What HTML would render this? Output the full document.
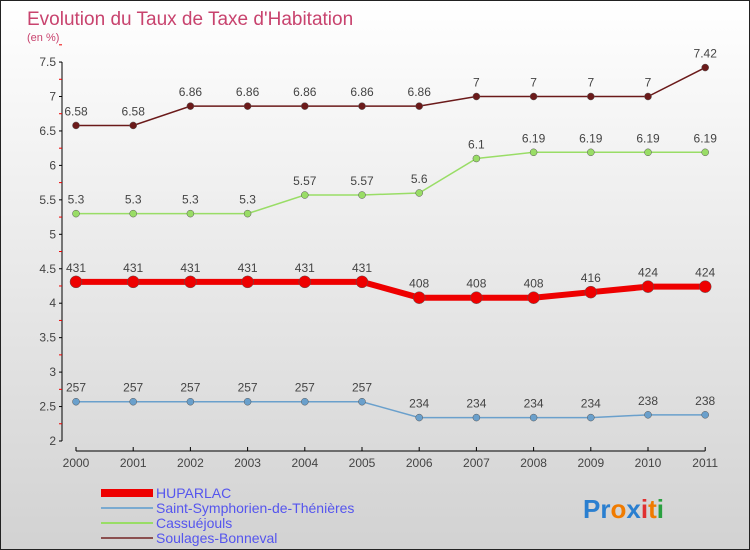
<!DOCTYPE html>
<html><head><meta charset="utf-8"><style>
body{margin:0}
#c{width:750px;height:550px;position:relative;overflow:hidden;box-sizing:border-box;border:1px solid #222;background:linear-gradient(#ffffff,#d2d2d2);font-family:"Liberation Sans",sans-serif}
svg text{font-family:"Liberation Sans",sans-serif}
</style></head><body>
<div id="c">
<svg id="s" width="750" height="550">
<text x="26" y="24" font-size="19" fill="#c8436e">Evolution du Taux de Taxe d'Habitation</text>
<text x="26" y="40" font-size="11" fill="#c8436e">(en %)</text>
<g id="axes"></g><g id="series"></g>
<g>
<rect x="100" y="488" width="52" height="8" fill="#e00"/>
<text x="155" y="497" font-size="14" fill="#5555ee">HUPARLAC</text>
<rect x="100" y="506" width="52" height="2" fill="#7aaad0"/>
<text x="155" y="512" font-size="14" fill="#5555ee">Saint-Symphorien-de-Thénières</text>
<rect x="100" y="521" width="52" height="2" fill="#99dd66"/>
<text x="155" y="527" font-size="14" fill="#5555ee">Cassuéjouls</text>
<rect x="100" y="536" width="52" height="2" fill="#8b5050"/>
<text x="155" y="542" font-size="14" fill="#5555ee">Soulages-Bonneval</text>
</g>
<text x="582" y="517" font-size="26" font-weight="bold"><tspan fill="#2a7fd0">Pr</tspan><tspan fill="#f07b00">o</tspan><tspan fill="#2a7fd0">x</tspan><tspan fill="#e03030">i</tspan><tspan fill="#f07b00">t</tspan><tspan fill="#2aa040">i</tspan></text>
</svg></div>
<script>
const years=["2000","2001","2002","2003","2004","2005","2006","2007","2008","2009","2010","2011"];
const yTicks=[2,2.5,3,3.5,4,4.5,5,5.5,6,6.5,7,7.5];
const huparlac=[4.31,4.31,4.31,4.31,4.31,4.31,4.08,4.08,4.08,4.16,4.24,4.24];
const saintSymphorien=[2.57,2.57,2.57,2.57,2.57,2.57,2.34,2.34,2.34,2.34,2.38,2.38];
const cassuejouls=[5.3,5.3,5.3,5.3,5.57,5.57,5.6,6.1,6.19,6.19,6.19,6.19];
const soulages=[6.58,6.58,6.86,6.86,6.86,6.86,6.86,7,7,7,7,7.42];
const NS="http://www.w3.org/2000/svg";
const X=i=>75+i*57.2;
const Y=v=>440-(v-2)*68.9;
function mk(t,a,p){const e=document.createElementNS(NS,t);for(const k in a)e.setAttribute(k,a[k]);p.appendChild(e);return e;}
const ax=document.getElementById('axes');
const ya=mk('line',{x1:61,y1:Y(7.5),x2:61,y2:Y(2),stroke:'#000','stroke-width':1},ax);


yTicks.forEach(v=>{
 mk('line',{x1:58,y1:Y(v),x2:61,y2:Y(v),stroke:'#000'},ax);
 mk('line',{x1:58,y1:Y(v+0.25),x2:61,y2:Y(v+0.25),stroke:'#e00'},ax);
 const t=mk('text',{x:55,y:Y(v)+4,'font-size':12,'text-anchor':'end',fill:'#444'},ax);
 t.textContent=String(v);
 
 
});
const xa=mk('line',{x1:X(0),y1:450,x2:X(11),y2:450,stroke:'#000'},ax);


years.forEach((y,i)=>{
 mk('line',{x1:X(i),y1:446,x2:X(i),y2:450,stroke:'#000'},ax);
 const t=mk('text',{x:X(i),y:466,'font-size':12,'text-anchor':'middle',fill:'#444'},ax);
 t.textContent=y;
 
 
});
const sg=document.getElementById('series');
function fmt(v,big){let s=String(v);return big?s.replace('.',''):s;}
function series(vals,color,lw,r,name,strip){
 const g=mk('g',{},sg);
 
 
 mk('polyline',{points:vals.map((v,i)=>X(i)+','+Y(v)).join(' '),fill:'none',stroke:color,'stroke-width':lw},g);
 vals.forEach((v,i)=>{
  const c=mk('circle',{cx:X(i),cy:Y(v),r:r,fill:color,stroke:'#555','stroke-width':0.5},g);
  
  
  const t=mk('text',{x:X(i),y:Y(v)-10,'font-size':12,'text-anchor':'middle',fill:'#444'},g);
  t.textContent=fmt(v,strip);
  
  
 });
}
series(soulages,'#6b1a1a',1.5,3.5,'series-soulages-bonneval',false);
series(cassuejouls,'#99dd66',1.5,3.5,'series-cassuejouls',false);
series(saintSymphorien,'#6aa0cc',1.5,3.5,'series-saint-symphorien',true);
series(huparlac,'#ee0000',6,6,'series-huparlac',true);
</script>
</body></html>
